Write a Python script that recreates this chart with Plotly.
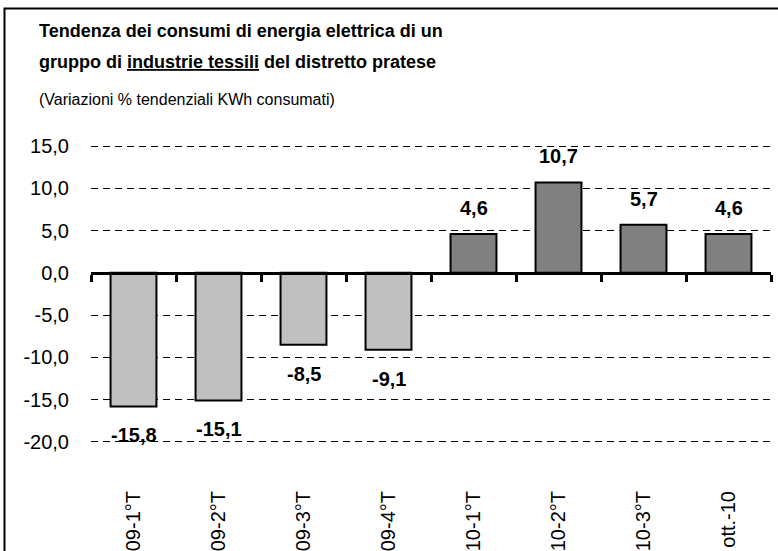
import plotly.graph_objects as go

categories = ["09-1°T", "09-2°T", "09-3°T", "09-4°T", "10-1°T", "10-2°T", "10-3°T", "ott.-10"]
values = [-15.8, -15.1, -8.5, -9.1, 4.6, 10.7, 5.7, 4.6]
y_ticks = [-20, -15, -10, -5, 0, 5, 10, 15]
y_tick_text = [f"{t:.1f}".replace(".", ",") for t in y_ticks]

title_line1 = "Tendenza dei consumi di energia elettrica di un"
title_line2 = "gruppo di <u>industrie tessili</u> del distretto pratese"
subtitle = "(Variazioni % tendenziali KWh consumati)"

W, H = 778, 551
ML, MR, MT, MB = 91, 7, 144, 107
PW, PH = W - ML - MR, H - MT - MB
YMIN, YMAX = -20.25, 15.25

def px_x(p):
    return (p - ML) / PW

def px_y(p):
    return (H - MB - p) / PH

colors = ["#C0C0C0" if v < 0 else "#808080" for v in values]
FONT = "Liberation Sans, Arial, sans-serif"

fig = go.Figure()
fig.add_trace(go.Bar(
    x=categories, y=values,
    marker=dict(color=colors, line=dict(color="black", width=2)),
    hoverinfo="skip", showlegend=False,
))
# invisible trace so the zero-line category axis renders its ticks
fig.add_trace(go.Scatter(
    x=categories, y=values, xaxis="x2", mode="markers",
    marker=dict(opacity=0), hoverinfo="skip", showlegend=False,
))

annotations = []
for c, v in zip(categories, values):
    annotations.append(dict(
        x=c, y=v, xref="x", yref="y",
        text="<b>" + f"{v:.1f}".replace(".", ",") + "</b>",
        showarrow=False,
        yanchor="bottom" if v >= 0 else "top",
        yshift=13 if v >= 0 else -16,
        font=dict(family=FONT, size=20, color="black"),
    ))

annotations += [
    dict(x=px_x(37), y=px_y(31), xref="paper", yref="paper", xanchor="left", yanchor="middle",
         text="<b>" + title_line1 + "</b>", showarrow=False,
         font=dict(family=FONT, size=18, color="black")),
    dict(x=px_x(37), y=px_y(62), xref="paper", yref="paper", xanchor="left", yanchor="middle",
         text="<b>" + title_line2 + "</b>", showarrow=False,
         font=dict(family=FONT, size=18, color="black")),
    dict(x=px_x(37), y=px_y(99), xref="paper", yref="paper", xanchor="left", yanchor="middle",
         text=subtitle, showarrow=False,
         font=dict(family=FONT, size=16, color="black")),
]

fig.update_layout(
    width=W, height=H,
    margin=dict(l=ML, r=MR, t=MT, b=MB, autoexpand=False),
    paper_bgcolor="white", plot_bgcolor="white",
    bargap=0.46,
    font=dict(family=FONT, color="black"),
    annotations=annotations,
    shapes=[dict(type="rect", xref="paper", yref="paper",
                 x0=px_x(4.5), x1=px_x(W + 20), y0=px_y(H + 20), y1=px_y(8.5),
                 line=dict(color="black", width=2), fillcolor="rgba(0,0,0,0)", layer="above")],
    xaxis=dict(
        type="category", categoryarray=categories, range=[-0.5, 7.5],
        showline=False, showgrid=False, zeroline=False, ticks="",
        tickangle=-90, ticklabelstandoff=42,
        tickfont=dict(family=FONT, size=20, color="black"),
    ),
    xaxis2=dict(
        type="category", categoryarray=categories, range=[-0.5, 7.5],
        overlaying="x", anchor="free", position=(0 - YMIN) / (YMAX - YMIN), side="bottom",
        showline=True, linecolor="black", linewidth=3,
        ticks="outside", tickson="boundaries", ticklen=7, tickwidth=3, tickcolor="black",
        showticklabels=False, showgrid=False, zeroline=False,
    ),
    yaxis=dict(
        range=[YMIN, YMAX], tickvals=y_ticks, ticktext=y_tick_text,
        showgrid=True, gridcolor="black", gridwidth=1, griddash="7px,5px",
        zeroline=False, showline=False, ticks="",
        ticklabelstandoff=21,
        tickfont=dict(family=FONT, size=20, color="black"),
    ),
)

fig.write_html(
    "out.html",
    config={"displayModeBar": False},
    post_script="document.body.style.margin='0px';document.body.style.overflow='hidden';",
)
